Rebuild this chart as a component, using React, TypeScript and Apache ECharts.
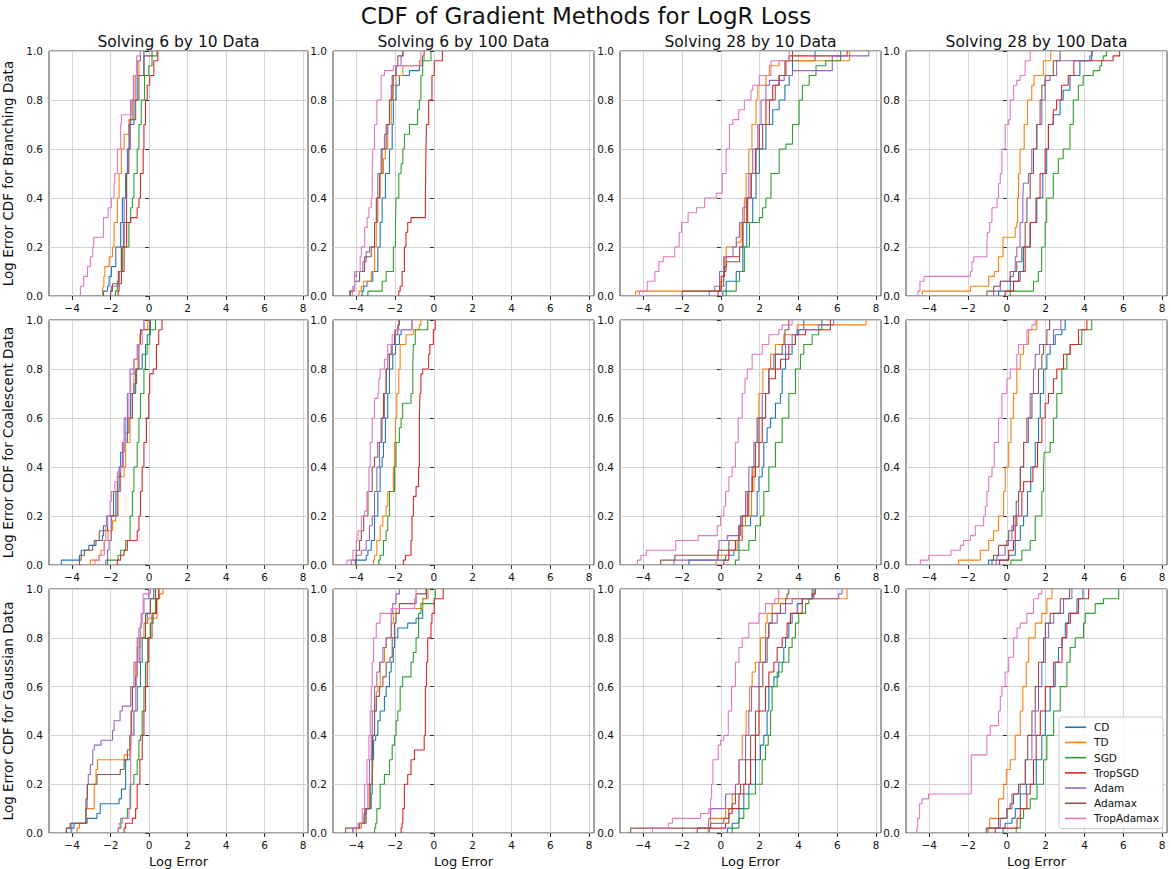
import React, { useEffect, useRef } from "react";
import * as echarts from "echarts";

const methods = ["CD", "TD", "SGD", "TropSGD", "Adam", "Adamax", "TropAdamax"];
const colors = ["#1f77b4", "#ff7f0e", "#2ca02c", "#d62728", "#9467bd", "#8c564b", "#e377c2"];
const columnTitles = ["Solving 6 by 10 Data", "Solving 6 by 100 Data", "Solving 28 by 10 Data", "Solving 28 by 100 Data"];
const rowLabels = ["Log Error CDF for Branching Data", "Log Error CDF for Coalescent Data", "Log Error CDF for Gaussian Data"];
const xTicks = [-4, -2, 0, 2, 4, 6, 8];
const mainTitle = "CDF of Gradient Methods for LogR Loss";
const xName = "Log Error";

// Each series: flat list of [x, cdf level reached at x] pairs; order = methods
const branching6by10 = [
  [-2.37, 0.02, -2.16, 0.04, -2.08, 0.08, -1.96, 0.12, -1.73, 0.2, -1.48, 0.3, -1.39, 0.4, -1.22, 0.5, -1.13, 0.6, -1.0, 0.7, -0.79, 0.8, -0.62, 0.9, -0.27, 1.0],
  [-2.42, 0.02, -2.4, 0.04, -2.35, 0.08, -2.3, 0.12, -2.07, 0.16, -1.9, 0.2, -1.82, 0.3, -1.65, 0.4, -1.56, 0.5, -1.44, 0.6, -1.3, 0.66, -1.05, 0.72, -0.87, 0.8, -0.7, 0.9, -0.53, 0.96, -0.45, 1.0],
  [-1.75, 0.02, -1.65, 0.06, -1.56, 0.1, -1.39, 0.2, -1.05, 0.3, -0.96, 0.36, -0.87, 0.4, -0.79, 0.5, -0.62, 0.6, -0.53, 0.7, -0.41, 0.8, -0.24, 0.9, -0.02, 0.94, 0.15, 0.98, 0.41, 1.0],
  [-1.61, 0.02, -1.56, 0.05, -1.44, 0.1, -1.3, 0.2, -1.17, 0.3, -0.96, 0.32, -0.62, 0.36, -0.53, 0.4, -0.45, 0.5, -0.31, 0.6, -0.27, 0.7, -0.19, 0.8, -0.1, 0.86, 0.03, 0.9, 0.24, 0.96, 0.45, 1.0],
  [-2.0, 0.02, -1.95, 0.04, -1.56, 0.1, -1.44, 0.2, -1.34, 0.3, -1.3, 0.4, -1.17, 0.5, -1.1, 0.6, -1.05, 0.7, -0.96, 0.8, -0.82, 0.9, -0.62, 0.96, -0.45, 1.0],
  [-2.0, 0.02, -1.9, 0.05, -1.6, 0.1, -1.44, 0.2, -1.3, 0.3, -1.17, 0.5, -1.05, 0.6, -0.99, 0.72, -0.7, 0.8, -0.53, 0.9, -0.27, 0.98, 0.15, 1.0],
  [-3.57, 0.04, -3.4, 0.08, -3.2, 0.12, -3.05, 0.16, -2.93, 0.2, -2.88, 0.24, -2.37, 0.32, -2.13, 0.36, -1.96, 0.4, -1.82, 0.46, -1.78, 0.5, -1.65, 0.6, -1.48, 0.7, -1.44, 0.74, -0.93, 0.8, -0.79, 0.9, -0.65, 0.98, -0.45, 1.0],
];
const branching6by100 = [
  [-3.7, 0.02, -3.62, 0.04, -3.45, 0.06, -3.15, 0.1, -2.89, 0.2, -2.77, 0.3, -2.67, 0.4, -2.5, 0.5, -2.29, 0.6, -2.15, 0.7, -2.09, 0.8, -1.95, 0.86, -1.78, 0.9, -1.26, 0.92, -0.75, 0.94, -0.58, 0.98, -0.5, 1.0],
  [-3.86, 0.02, -3.74, 0.04, -3.62, 0.06, -3.23, 0.1, -3.06, 0.2, -2.97, 0.3, -2.89, 0.4, -2.77, 0.5, -2.6, 0.56, -2.5, 0.6, -2.38, 0.7, -2.2, 0.8, -2.09, 0.86, -1.95, 0.9, -1.6, 0.94, -0.75, 0.96, -0.5, 1.0],
  [-3.4, 0.02, -2.67, 0.06, -2.46, 0.1, -2.09, 0.2, -1.98, 0.3, -1.95, 0.4, -1.81, 0.5, -1.69, 0.54, -1.6, 0.6, -1.52, 0.66, -1.26, 0.7, -0.84, 0.76, -0.75, 0.8, -0.67, 0.9, -0.58, 0.96, -0.15, 1.0],
  [-1.81, 0.02, -1.74, 0.04, -1.64, 0.1, -1.52, 0.2, -1.44, 0.26, -1.35, 0.3, -1.18, 0.32, -0.44, 0.4, -0.41, 0.6, -0.38, 0.7, -0.27, 0.8, -0.1, 0.9, 0.02, 0.96, 0.44, 1.0],
  [-4.34, 0.02, -4.17, 0.04, -4.09, 0.08, -4.0, 0.1, -3.66, 0.14, -3.49, 0.18, -3.32, 0.2, -3.06, 0.3, -2.97, 0.4, -2.89, 0.5, -2.72, 0.6, -2.55, 0.66, -2.38, 0.7, -2.29, 0.8, -2.2, 0.86, -2.09, 0.9, -1.95, 0.94, -1.69, 0.98, -1.6, 1.0],
  [-4.3, 0.02, -4.09, 0.06, -3.83, 0.1, -3.57, 0.16, -3.23, 0.2, -3.06, 0.3, -2.94, 0.4, -2.8, 0.5, -2.67, 0.6, -2.46, 0.7, -2.29, 0.8, -2.15, 0.9, -1.95, 0.94, -1.86, 0.98, -1.6, 1.0],
  [-4.2, 0.02, -4.09, 0.1, -3.8, 0.16, -3.74, 0.2, -3.57, 0.28, -3.44, 0.32, -3.35, 0.36, -3.23, 0.4, -3.18, 0.5, -3.15, 0.6, -3.06, 0.7, -2.94, 0.8, -2.72, 0.9, -2.55, 0.92, -2.09, 0.94, -0.67, 1.0],
];
const branching28by10 = [
  [0.1, 0.02, 0.27, 0.06, 0.79, 0.1, 1.13, 0.2, 1.33, 0.3, 1.64, 0.4, 1.81, 0.5, 1.98, 0.6, 2.32, 0.7, 2.67, 0.76, 3.0, 0.8, 3.3, 0.86, 3.52, 0.9, 3.69, 0.96, 4.85, 1.0],
  [-4.4, 0.02, 0.0, 0.06, 0.14, 0.1, 0.19, 0.16, 0.27, 0.2, 0.82, 0.22, 1.04, 0.3, 1.21, 0.4, 1.3, 0.5, 1.44, 0.6, 1.6, 0.7, 1.81, 0.8, 1.9, 0.86, 2.32, 0.9, 2.5, 0.94, 3.0, 0.96, 6.63, 1.0],
  [0.27, 0.02, 0.79, 0.06, 0.96, 0.1, 1.21, 0.2, 1.47, 0.3, 1.98, 0.32, 2.15, 0.36, 2.32, 0.4, 2.58, 0.5, 3.0, 0.6, 3.35, 0.62, 3.69, 0.7, 4.03, 0.8, 4.2, 0.86, 4.55, 0.9, 4.9, 0.94, 5.4, 0.96, 6.17, 1.0],
  [-0.15, 0.02, 0.02, 0.08, 0.19, 0.12, 0.27, 0.16, 0.96, 0.2, 1.13, 0.3, 1.38, 0.4, 1.56, 0.5, 1.78, 0.6, 1.98, 0.7, 2.32, 0.8, 2.67, 0.86, 3.0, 0.9, 3.35, 0.96, 3.5, 0.98, 6.5, 1.0],
  [-0.6, 0.02, -0.32, 0.04, -0.07, 0.1, 0.14, 0.16, 0.62, 0.2, 0.79, 0.24, 0.96, 0.3, 1.13, 0.36, 1.3, 0.4, 1.44, 0.5, 1.64, 0.6, 1.9, 0.7, 2.07, 0.8, 2.32, 0.86, 2.5, 0.88, 3.26, 0.9, 3.69, 0.92, 5.74, 0.98, 7.62, 1.0],
  [-2.0, 0.02, -0.07, 0.04, 0.14, 0.1, 0.27, 0.12, 0.3, 0.14, 0.96, 0.2, 1.13, 0.3, 1.33, 0.4, 1.56, 0.5, 1.81, 0.6, 2.15, 0.7, 2.5, 0.8, 2.8, 0.86, 3.0, 0.9, 3.3, 0.96, 3.69, 1.0],
  [-4.2, 0.02, -3.8, 0.06, -3.4, 0.1, -3.2, 0.14, -2.97, 0.16, -2.38, 0.2, -2.15, 0.26, -2.03, 0.3, -1.69, 0.34, -1.26, 0.36, -0.84, 0.4, -0.24, 0.42, 0.07, 0.5, 0.27, 0.6, 0.44, 0.7, 0.62, 0.72, 0.92, 0.76, 1.21, 0.8, 1.55, 0.84, 1.64, 0.86, 1.98, 0.9, 2.58, 0.96, 3.52, 1.0],
];
const branching28by100 = [
  [-0.43, 0.02, 0.17, 0.06, 0.6, 0.1, 0.85, 0.2, 1.2, 0.3, 1.54, 0.4, 1.85, 0.5, 2.05, 0.6, 2.14, 0.7, 2.39, 0.74, 2.74, 0.8, 2.9, 0.84, 3.25, 0.9, 3.76, 0.96, 4.36, 1.0],
  [-4.36, 0.02, -1.88, 0.04, -0.94, 0.08, -0.65, 0.1, -0.43, 0.16, -0.2, 0.24, 0.43, 0.28, 0.51, 0.3, 0.55, 0.4, 0.6, 0.5, 0.68, 0.6, 0.89, 0.7, 1.06, 0.8, 1.28, 0.86, 1.4, 0.9, 1.88, 0.96, 2.26, 1.0],
  [0.17, 0.02, 1.37, 0.06, 1.62, 0.1, 1.79, 0.2, 1.97, 0.3, 2.05, 0.4, 2.39, 0.5, 2.65, 0.56, 2.9, 0.6, 3.25, 0.7, 3.42, 0.8, 3.68, 0.86, 3.93, 0.9, 4.45, 0.92, 4.79, 0.94, 4.88, 0.96, 4.96, 0.98, 5.13, 1.0],
  [-0.09, 0.02, 0.34, 0.06, 0.68, 0.1, 0.94, 0.2, 1.2, 0.3, 1.5, 0.4, 1.71, 0.5, 1.97, 0.6, 2.14, 0.7, 2.39, 0.76, 2.56, 0.8, 2.82, 0.86, 3.16, 0.9, 3.45, 0.96, 5.47, 0.98, 5.81, 1.0],
  [-0.68, 0.02, -0.34, 0.06, 0.17, 0.08, 0.34, 0.1, 0.43, 0.16, 0.51, 0.2, 0.68, 0.3, 0.82, 0.4, 0.85, 0.46, 1.11, 0.5, 1.28, 0.6, 1.54, 0.7, 1.8, 0.8, 1.97, 0.88, 2.22, 0.9, 2.56, 0.96, 4.27, 0.98, 4.4, 1.0],
  [-1.03, 0.02, -0.68, 0.04, -0.34, 0.06, 0.17, 0.1, 0.51, 0.14, 0.77, 0.2, 0.94, 0.3, 1.03, 0.4, 1.2, 0.5, 1.37, 0.6, 1.54, 0.7, 1.71, 0.8, 1.8, 0.86, 1.97, 0.9, 2.39, 0.96, 2.74, 1.0],
  [-4.58, 0.02, -4.48, 0.06, -4.27, 0.08, -1.88, 0.1, -1.8, 0.14, -1.71, 0.16, -1.03, 0.22, -1.0, 0.26, -0.89, 0.3, -0.77, 0.36, -0.51, 0.4, -0.43, 0.46, -0.34, 0.5, -0.26, 0.6, -0.09, 0.7, 0.09, 0.72, 0.17, 0.8, 0.34, 0.86, 0.51, 0.88, 0.68, 0.9, 0.94, 0.96, 1.2, 1.0],
];
const coalescent6by10 = [
  [-4.56, 0.02, -3.62, 0.04, -3.53, 0.06, -3.13, 0.08, -2.76, 0.1, -2.42, 0.12, -2.37, 0.16, -2.2, 0.2, -1.73, 0.3, -1.56, 0.4, -1.48, 0.46, -1.3, 0.5, -1.13, 0.6, -0.96, 0.7, -0.7, 0.8, -0.36, 0.86, -0.19, 0.9, -0.1, 0.94, 0.07, 1.0],
  [-3.05, 0.02, -2.6, 0.04, -2.5, 0.06, -2.33, 0.1, -2.13, 0.14, -1.9, 0.18, -1.73, 0.2, -1.61, 0.3, -1.48, 0.36, -1.3, 0.4, -1.22, 0.5, -0.99, 0.6, -0.87, 0.7, -0.79, 0.8, -0.58, 0.9, -0.48, 0.94, -0.41, 0.96, -0.07, 1.0],
  [-2.16, 0.02, -1.61, 0.04, -1.48, 0.06, -1.22, 0.1, -0.99, 0.2, -0.87, 0.3, -0.79, 0.4, -0.62, 0.5, -0.53, 0.6, -0.45, 0.7, -0.27, 0.8, -0.19, 0.86, -0.1, 0.9, 0.03, 0.96, 0.33, 1.0],
  [-1.65, 0.02, -1.48, 0.04, -1.3, 0.06, -1.13, 0.1, -0.62, 0.14, -0.53, 0.2, -0.45, 0.3, -0.36, 0.4, -0.27, 0.5, -0.14, 0.6, -0.02, 0.7, 0.03, 0.78, 0.21, 0.8, 0.38, 0.9, 0.5, 0.96, 0.67, 1.0],
  [-2.25, 0.02, -2.16, 0.06, -2.08, 0.1, -1.96, 0.2, -1.65, 0.3, -1.51, 0.4, -1.39, 0.5, -1.3, 0.6, -1.13, 0.7, -0.99, 0.8, -0.79, 0.84, -0.62, 0.9, -0.45, 0.96, -0.27, 1.0],
  [-3.62, 0.02, -3.53, 0.04, -3.36, 0.06, -2.93, 0.08, -2.85, 0.1, -2.59, 0.14, -2.16, 0.2, -1.85, 0.3, -1.65, 0.36, -1.48, 0.4, -1.34, 0.5, -1.22, 0.54, -1.05, 0.6, -0.87, 0.7, -0.79, 0.74, -0.65, 0.8, -0.53, 0.9, -0.45, 0.96, 0.03, 1.0],
  [-2.81, 0.02, -2.59, 0.04, -2.33, 0.1, -2.25, 0.16, -2.16, 0.2, -2.03, 0.26, -1.96, 0.3, -1.78, 0.34, -1.65, 0.38, -1.48, 0.4, -1.34, 0.5, -1.22, 0.6, -1.05, 0.7, -0.96, 0.78, -0.79, 0.84, -0.58, 0.9, -0.36, 0.96, -0.27, 1.0],
];
const coalescent6by100 = [
  [-4.0, 0.02, -3.49, 0.04, -3.4, 0.06, -3.23, 0.1, -3.06, 0.2, -2.89, 0.3, -2.77, 0.4, -2.67, 0.44, -2.6, 0.5, -2.5, 0.6, -2.38, 0.7, -2.29, 0.8, -2.12, 0.86, -1.98, 0.9, -1.78, 0.94, -1.69, 0.96, -1.13, 1.0],
  [-3.11, 0.02, -3.06, 0.04, -2.94, 0.1, -2.77, 0.16, -2.63, 0.2, -2.46, 0.24, -2.38, 0.3, -2.09, 0.4, -2.03, 0.5, -1.98, 0.6, -1.91, 0.7, -1.81, 0.8, -1.74, 0.9, -1.44, 0.94, -1.06, 0.96, -0.75, 0.98, -0.67, 1.0],
  [-2.84, 0.02, -2.77, 0.04, -2.6, 0.1, -2.46, 0.14, -2.38, 0.2, -2.29, 0.3, -2.03, 0.4, -1.95, 0.5, -1.78, 0.56, -1.69, 0.6, -1.61, 0.66, -1.18, 0.7, -1.09, 0.8, -1.06, 0.9, -0.96, 0.96, -0.32, 1.0],
  [-1.57, 0.02, -1.47, 0.04, -1.18, 0.1, -1.13, 0.2, -1.06, 0.28, -0.92, 0.32, -0.79, 0.4, -0.75, 0.6, -0.72, 0.7, -0.67, 0.78, -0.58, 0.8, -0.27, 0.86, -0.21, 0.9, -0.03, 0.96, 0.07, 1.0],
  [-4.26, 0.02, -4.0, 0.04, -3.74, 0.06, -3.49, 0.1, -3.32, 0.16, -3.18, 0.2, -3.06, 0.3, -2.94, 0.4, -2.8, 0.5, -2.67, 0.6, -2.55, 0.7, -2.46, 0.8, -2.38, 0.86, -2.2, 0.9, -1.98, 0.96, -1.81, 1.0],
  [-4.05, 0.02, -4.0, 0.06, -3.83, 0.1, -3.74, 0.14, -3.62, 0.2, -3.4, 0.3, -3.18, 0.4, -3.06, 0.44, -2.89, 0.5, -2.72, 0.6, -2.6, 0.7, -2.46, 0.8, -2.29, 0.86, -2.15, 0.9, -2.03, 0.94, -1.86, 0.98, -1.78, 1.0],
  [-4.48, 0.02, -4.17, 0.06, -4.0, 0.1, -3.91, 0.14, -3.74, 0.2, -3.57, 0.22, -3.45, 0.3, -3.35, 0.4, -3.28, 0.5, -3.18, 0.6, -3.06, 0.68, -2.89, 0.7, -2.84, 0.76, -2.77, 0.8, -2.55, 0.84, -2.38, 0.9, -2.15, 0.94, -2.03, 0.96, -1.13, 1.0],
];
const coalescent28by10 = [
  [-1.65, 0.02, 0.24, 0.04, 0.67, 0.06, 0.93, 0.1, 1.1, 0.16, 1.53, 0.2, 1.87, 0.3, 1.96, 0.36, 2.13, 0.4, 2.21, 0.5, 2.38, 0.56, 2.56, 0.6, 2.81, 0.66, 3.07, 0.7, 3.16, 0.8, 3.33, 0.86, 3.67, 0.9, 3.84, 0.94, 4.01, 0.96, 4.27, 1.0],
  [-0.24, 0.02, -0.19, 0.04, 0.41, 0.06, 0.84, 0.1, 1.1, 0.16, 1.27, 0.2, 1.58, 0.3, 1.7, 0.4, 1.78, 0.5, 1.87, 0.6, 1.96, 0.7, 2.16, 0.8, 2.56, 0.86, 2.81, 0.9, 3.24, 0.94, 3.93, 0.98, 7.48, 1.0],
  [0.75, 0.02, 0.93, 0.06, 1.44, 0.1, 1.78, 0.16, 2.04, 0.2, 2.21, 0.3, 2.47, 0.4, 2.81, 0.5, 3.16, 0.6, 3.5, 0.7, 3.84, 0.8, 4.1, 0.86, 4.27, 0.9, 4.7, 0.94, 5.04, 0.96, 5.2, 1.0],
  [0.15, 0.02, 0.41, 0.06, 0.75, 0.1, 0.93, 0.16, 1.1, 0.2, 1.36, 0.3, 1.61, 0.36, 1.78, 0.4, 1.96, 0.5, 2.13, 0.6, 2.3, 0.7, 2.47, 0.76, 2.81, 0.8, 3.07, 0.84, 3.5, 0.9, 3.84, 0.94, 4.36, 0.96, 5.64, 1.0],
  [-2.42, 0.02, -0.14, 0.06, -0.1, 0.1, 0.33, 0.12, 1.01, 0.2, 1.27, 0.3, 1.44, 0.4, 1.7, 0.5, 1.87, 0.6, 2.13, 0.7, 2.47, 0.8, 2.73, 0.86, 3.33, 0.9, 3.67, 0.94, 3.93, 0.96, 5.04, 0.98, 5.81, 1.0],
  [-3.1, 0.02, -2.37, 0.04, -0.14, 0.06, 0.41, 0.1, 0.93, 0.16, 1.1, 0.2, 1.44, 0.3, 1.61, 0.4, 1.78, 0.5, 1.96, 0.6, 2.3, 0.7, 2.47, 0.8, 2.81, 0.86, 3.16, 0.9, 3.3, 0.96, 3.5, 1.0],
  [-4.3, 0.02, -4.12, 0.04, -3.84, 0.06, -2.33, 0.1, -1.17, 0.12, -0.19, 0.16, -0.02, 0.2, 0.15, 0.24, 0.24, 0.3, 0.41, 0.36, 0.58, 0.4, 0.75, 0.5, 0.89, 0.6, 1.1, 0.7, 1.24, 0.76, 1.36, 0.8, 1.61, 0.86, 2.13, 0.9, 2.47, 0.94, 2.98, 0.96, 3.16, 0.98, 3.67, 1.0],
];
const coalescent28by100 = [
  [-0.94, 0.02, 0.09, 0.04, 0.43, 0.1, 0.69, 0.16, 0.86, 0.2, 1.06, 0.3, 1.23, 0.4, 1.46, 0.5, 1.63, 0.6, 1.72, 0.7, 1.89, 0.8, 2.06, 0.86, 2.23, 0.9, 2.49, 0.94, 2.83, 0.96, 3.0, 1.0],
  [-2.49, 0.02, -1.37, 0.06, -0.94, 0.1, -0.69, 0.14, -0.43, 0.2, -0.17, 0.3, -0.09, 0.4, 0.09, 0.5, 0.21, 0.6, 0.34, 0.7, 0.51, 0.8, 0.69, 0.86, 0.86, 0.9, 1.11, 0.96, 1.54, 1.0],
  [0.21, 0.02, 0.77, 0.06, 1.2, 0.1, 1.46, 0.2, 1.8, 0.3, 1.89, 0.4, 1.92, 0.46, 2.23, 0.5, 2.4, 0.6, 2.57, 0.7, 2.83, 0.8, 3.09, 0.86, 3.26, 0.9, 3.86, 0.96, 4.37, 1.0],
  [-0.38, 0.02, 0.09, 0.06, 0.34, 0.1, 0.43, 0.16, 0.51, 0.2, 0.77, 0.3, 0.86, 0.34, 1.34, 0.4, 1.58, 0.5, 1.8, 0.6, 1.97, 0.66, 2.14, 0.7, 2.4, 0.76, 2.57, 0.8, 2.92, 0.86, 3.26, 0.9, 3.69, 0.96, 4.12, 1.0],
  [-0.55, 0.02, -0.51, 0.04, -0.09, 0.08, 0.09, 0.1, 0.26, 0.16, 0.43, 0.2, 0.6, 0.3, 0.69, 0.4, 0.86, 0.5, 1.11, 0.6, 1.2, 0.7, 1.37, 0.8, 1.46, 0.86, 1.68, 0.9, 2.4, 0.96, 2.78, 1.0],
  [-0.77, 0.02, -0.69, 0.04, -0.43, 0.08, 0.0, 0.1, 0.09, 0.14, 0.34, 0.2, 0.48, 0.26, 0.6, 0.3, 0.69, 0.4, 0.86, 0.5, 1.03, 0.6, 1.29, 0.7, 1.63, 0.8, 1.8, 0.86, 1.89, 0.9, 2.06, 0.96, 2.2, 1.0],
  [-4.46, 0.02, -4.03, 0.04, -2.88, 0.06, -2.4, 0.08, -2.23, 0.1, -1.88, 0.12, -1.63, 0.16, -1.2, 0.2, -1.11, 0.24, -1.03, 0.3, -0.94, 0.36, -0.77, 0.4, -0.65, 0.5, -0.43, 0.6, -0.26, 0.7, 0.0, 0.76, 0.17, 0.8, 0.51, 0.86, 0.6, 0.9, 1.03, 0.96, 1.29, 0.98, 1.46, 1.0],
];
const gaussian6by10 = [
  [-4.05, 0.02, -3.9, 0.04, -3.22, 0.06, -2.71, 0.08, -2.54, 0.12, -1.56, 0.14, -1.44, 0.18, -1.22, 0.3, -0.99, 0.4, -0.79, 0.5, -0.62, 0.6, -0.45, 0.7, -0.36, 0.8, -0.19, 0.86, -0.1, 0.9, 0.07, 0.96, 0.24, 1.0],
  [-3.74, 0.02, -3.62, 0.04, -3.28, 0.1, -2.85, 0.2, -2.76, 0.26, -2.68, 0.3, -1.3, 0.32, -0.99, 0.4, -0.93, 0.5, -0.87, 0.6, -0.7, 0.7, -0.62, 0.76, -0.48, 0.8, -0.27, 0.86, -0.07, 0.88, 0.41, 0.96, 0.55, 0.98, 0.72, 1.0],
  [-1.61, 0.02, -1.47, 0.06, -1.13, 0.1, -0.96, 0.2, -0.79, 0.24, -0.62, 0.3, -0.53, 0.38, -0.45, 0.4, -0.36, 0.5, -0.27, 0.6, -0.19, 0.7, -0.07, 0.8, 0.07, 0.86, 0.21, 0.9, 0.33, 0.96, 0.5, 1.0],
  [-1.3, 0.02, -1.22, 0.04, -0.87, 0.06, -0.7, 0.1, -0.62, 0.2, -0.48, 0.3, -0.36, 0.4, -0.27, 0.5, -0.19, 0.6, -0.1, 0.7, -0.02, 0.8, 0.15, 0.9, 0.38, 0.96, 0.5, 1.0],
  [-4.3, 0.02, -4.05, 0.04, -3.28, 0.1, -3.22, 0.2, -3.16, 0.24, -3.05, 0.28, -2.93, 0.34, -2.85, 0.36, -2.5, 0.38, -1.9, 0.42, -1.82, 0.46, -1.51, 0.5, -1.39, 0.52, -0.96, 0.6, -0.79, 0.7, -0.62, 0.8, -0.53, 0.84, -0.41, 0.9, -0.27, 0.96, -0.02, 1.0],
  [-4.3, 0.02, -4.1, 0.04, -3.28, 0.14, -3.2, 0.2, -2.71, 0.24, -1.5, 0.26, -1.3, 0.3, -1.13, 0.34, -0.99, 0.4, -0.93, 0.5, -0.87, 0.6, -0.7, 0.64, -0.62, 0.7, -0.48, 0.8, -0.19, 0.9, 0.07, 0.96, 0.33, 1.0],
  [-1.61, 0.02, -1.56, 0.04, -1.39, 0.06, -1.05, 0.1, -1.0, 0.2, -0.96, 0.3, -0.93, 0.4, -0.82, 0.5, -0.7, 0.6, -0.65, 0.7, -0.53, 0.8, -0.45, 0.86, -0.36, 0.9, -0.31, 0.98, 0.07, 1.0],
];
const gaussian6by100 = [
  [-4.17, 0.02, -3.83, 0.04, -3.49, 0.1, -3.23, 0.16, -3.18, 0.2, -3.15, 0.3, -3.11, 0.38, -3.0, 0.4, -2.89, 0.46, -2.77, 0.5, -2.55, 0.56, -2.46, 0.6, -2.29, 0.66, -2.2, 0.7, -2.09, 0.76, -2.03, 0.8, -1.86, 0.84, -1.35, 0.86, -0.92, 0.88, -0.58, 0.96, -0.38, 1.0],
  [-4.0, 0.02, -3.74, 0.04, -3.52, 0.1, -3.32, 0.2, -3.18, 0.3, -3.15, 0.4, -3.06, 0.5, -2.97, 0.58, -2.89, 0.6, -2.77, 0.7, -2.55, 0.76, -2.46, 0.8, -2.2, 0.86, -2.09, 0.9, -1.95, 0.92, -0.58, 0.96, -0.3, 1.0],
  [-3.06, 0.02, -3.0, 0.04, -2.94, 0.1, -2.77, 0.2, -2.55, 0.24, -2.29, 0.3, -2.15, 0.36, -2.03, 0.4, -1.95, 0.46, -1.86, 0.5, -1.74, 0.6, -1.61, 0.64, -1.18, 0.7, -1.06, 0.74, -0.92, 0.8, -0.79, 0.9, -0.67, 0.94, 0.02, 0.96, 0.07, 1.0],
  [-1.69, 0.02, -1.64, 0.04, -1.6, 0.1, -1.52, 0.2, -1.35, 0.24, -1.18, 0.3, -1.0, 0.34, -0.5, 0.4, -0.44, 0.6, -0.38, 0.7, -0.32, 0.8, -0.15, 0.86, -0.1, 0.9, 0.02, 0.96, 0.48, 1.0],
  [-4.17, 0.02, -3.83, 0.04, -3.57, 0.1, -3.4, 0.2, -3.32, 0.3, -3.23, 0.4, -3.18, 0.5, -3.06, 0.6, -2.94, 0.66, -2.8, 0.7, -2.63, 0.76, -2.46, 0.8, -2.2, 0.9, -2.12, 0.94, -1.95, 0.98, -1.78, 1.0],
  [-4.55, 0.02, -3.86, 0.04, -3.6, 0.08, -3.49, 0.1, -3.28, 0.2, -3.18, 0.3, -3.15, 0.4, -3.06, 0.5, -2.97, 0.56, -2.8, 0.6, -2.63, 0.64, -2.46, 0.7, -2.26, 0.72, -2.15, 0.8, -2.03, 0.86, -1.95, 0.9, -1.78, 0.94, -0.92, 0.98, -0.41, 1.0],
  [-4.14, 0.02, -3.91, 0.04, -3.69, 0.1, -3.57, 0.2, -3.45, 0.3, -3.35, 0.4, -3.28, 0.5, -3.23, 0.6, -3.18, 0.7, -3.11, 0.8, -2.97, 0.86, -2.77, 0.9, -2.2, 0.92, -1.0, 0.96, -0.92, 1.0],
];
const gaussian28by10 = [
  [0.33, 0.02, 0.58, 0.04, 0.93, 0.1, 1.18, 0.16, 1.44, 0.2, 1.78, 0.3, 2.04, 0.36, 2.21, 0.4, 2.38, 0.5, 2.47, 0.6, 2.73, 0.64, 2.98, 0.7, 3.24, 0.76, 3.33, 0.8, 3.5, 0.86, 3.67, 0.9, 3.93, 0.94, 4.19, 0.96, 4.79, 1.0],
  [-0.58, 0.02, -0.53, 0.06, 0.24, 0.1, 0.58, 0.16, 0.75, 0.2, 0.93, 0.3, 1.1, 0.4, 1.3, 0.5, 1.48, 0.6, 1.61, 0.66, 1.78, 0.7, 2.04, 0.8, 2.3, 0.86, 2.38, 0.9, 2.64, 0.94, 2.98, 0.96, 6.5, 1.0],
  [0.58, 0.02, 0.93, 0.06, 1.18, 0.1, 1.44, 0.16, 1.78, 0.2, 2.13, 0.3, 2.3, 0.36, 2.44, 0.4, 2.56, 0.5, 2.64, 0.6, 2.9, 0.66, 3.16, 0.7, 3.5, 0.76, 3.67, 0.8, 3.84, 0.86, 4.01, 0.9, 4.36, 0.94, 4.53, 0.96, 4.7, 1.0],
  [-1.22, 0.02, 0.24, 0.04, 0.41, 0.08, 0.58, 0.1, 0.93, 0.16, 1.18, 0.2, 1.53, 0.3, 1.78, 0.4, 1.96, 0.5, 2.3, 0.6, 2.47, 0.66, 2.73, 0.7, 2.9, 0.76, 3.16, 0.8, 3.41, 0.86, 3.58, 0.9, 4.19, 0.96, 4.7, 0.98, 4.87, 1.0],
  [-0.65, 0.02, -0.62, 0.06, -0.53, 0.1, 0.24, 0.16, 0.75, 0.2, 0.93, 0.3, 1.27, 0.4, 1.44, 0.5, 1.58, 0.6, 1.96, 0.7, 2.3, 0.8, 2.47, 0.86, 2.9, 0.9, 3.33, 0.94, 3.67, 0.96, 6.07, 0.98, 6.24, 1.0],
  [-4.65, 0.02, -0.53, 0.04, 0.15, 0.06, 0.41, 0.1, 0.58, 0.12, 0.75, 0.16, 1.01, 0.2, 1.27, 0.3, 1.53, 0.4, 1.78, 0.5, 1.96, 0.6, 2.16, 0.7, 2.38, 0.8, 2.47, 0.86, 2.64, 0.9, 3.07, 0.94, 3.33, 0.96, 3.41, 0.98, 3.5, 1.0],
  [-3.53, 0.02, -2.71, 0.04, -2.5, 0.06, -1.05, 0.08, -0.62, 0.1, -0.53, 0.14, -0.48, 0.2, -0.41, 0.3, -0.14, 0.36, -0.02, 0.38, 0.15, 0.4, 0.38, 0.5, 0.55, 0.6, 0.75, 0.7, 0.93, 0.76, 1.1, 0.8, 1.44, 0.86, 1.96, 0.9, 2.3, 0.94, 2.78, 0.96, 2.98, 1.0],
];
const gaussian28by100 = [
  [-0.2, 0.02, -0.09, 0.04, 0.26, 0.06, 0.43, 0.1, 0.69, 0.16, 1.0, 0.2, 1.51, 0.3, 1.8, 0.4, 1.98, 0.5, 2.23, 0.6, 2.49, 0.7, 2.66, 0.76, 2.84, 0.8, 3.01, 0.86, 3.18, 0.9, 3.61, 0.96, 3.92, 1.0],
  [-0.94, 0.02, -0.89, 0.06, -0.43, 0.14, -0.17, 0.2, -0.03, 0.26, 0.17, 0.3, 0.43, 0.4, 0.69, 0.5, 0.82, 0.6, 1.0, 0.7, 1.12, 0.8, 1.46, 0.86, 1.8, 0.9, 2.06, 0.96, 2.32, 1.0],
  [0.48, 0.02, 0.69, 0.06, 0.86, 0.1, 1.2, 0.14, 1.55, 0.2, 1.89, 0.3, 2.06, 0.4, 2.41, 0.5, 2.75, 0.6, 3.09, 0.7, 3.26, 0.76, 3.52, 0.8, 3.95, 0.86, 4.04, 0.9, 4.55, 0.94, 4.98, 0.96, 5.76, 1.0],
  [-0.6, 0.02, 0.52, 0.06, 0.69, 0.1, 1.03, 0.16, 1.2, 0.2, 1.37, 0.3, 1.51, 0.4, 1.72, 0.5, 1.98, 0.6, 2.41, 0.7, 2.84, 0.8, 3.09, 0.86, 3.27, 0.9, 3.69, 0.96, 4.21, 1.0],
  [-1.07, 0.02, -0.34, 0.06, 0.0, 0.1, 0.26, 0.16, 0.69, 0.2, 0.95, 0.3, 1.29, 0.4, 1.46, 0.5, 1.63, 0.6, 1.8, 0.7, 1.98, 0.8, 2.15, 0.86, 2.41, 0.9, 2.92, 0.96, 3.35, 1.0],
  [-1.03, 0.02, -0.43, 0.06, 0.0, 0.1, 0.17, 0.12, 0.34, 0.16, 0.6, 0.2, 0.95, 0.3, 1.07, 0.4, 1.29, 0.5, 1.46, 0.6, 1.63, 0.7, 1.89, 0.8, 1.98, 0.86, 2.23, 0.9, 2.75, 0.96, 3.23, 1.0],
  [-4.64, 0.02, -4.6, 0.06, -4.5, 0.12, -4.38, 0.14, -4.04, 0.16, -1.84, 0.32, -1.03, 0.4, -0.86, 0.44, -0.43, 0.5, -0.34, 0.56, -0.26, 0.6, -0.09, 0.66, 0.09, 0.72, 0.34, 0.8, 0.52, 0.84, 0.69, 0.86, 1.03, 0.9, 1.37, 0.96, 1.63, 0.98, 1.8, 1.0],
];

const panels = [
  [branching6by10, branching6by100, branching28by10, branching28by100],
  [coalescent6by10, coalescent6by100, coalescent28by10, coalescent28by100],
  [gaussian6by10, gaussian6by100, gaussian28by10, gaussian28by100],
];

const FONT = "DejaVu Sans";
const gridLefts = [48, 333, 620, 906];
const gridTops = [51, 320, 589];
const GW = 261;
const GH = 245;

function toSteps(flat: number[]) {
  const pts: number[][] = [[flat[0], 0]];
  for (let i = 0; i < flat.length; i += 2) pts.push([flat[i], flat[i + 1]]);
  return pts;
}

function fmtX(v: number) {
  return v < 0 ? "\u2212" + Math.abs(v) : String(v);
}

export default function App() {
  const ref = useRef<HTMLDivElement>(null);
  useEffect(() => {
    if (!ref.current) return;
    const chart = echarts.init(ref.current, null, { renderer: "svg" });
    const grids: any[] = [];
    const xAxes: any[] = [];
    const yAxes: any[] = [];
    const series: any[] = [];
    for (let r = 0; r < 3; r++) {
      for (let c = 0; c < 4; c++) {
        const idx = r * 4 + c;
        grids.push({
          left: gridLefts[c], top: gridTops[r], width: c === 0 ? GW - 1 : GW, height: GH,
          show: true, borderColor: "#444", borderWidth: 1, backgroundColor: "transparent",
        });
        xAxes.push({
          gridIndex: idx, type: "value", min: -5.2, max: 8.25,
          axisLine: { show: false },
          axisTick: { show: true, customValues: xTicks, length: 4, lineStyle: { color: "#333" } },
          axisLabel: { customValues: xTicks, formatter: fmtX, fontSize: 10.5, color: "#111", margin: 6, fontFamily: FONT },
          splitLine: { show: true, lineStyle: { color: "#d3d3d3", width: 1 } },
          name: r === 2 ? xName : "", nameLocation: "middle", nameGap: 22,
          nameTextStyle: { fontSize: 13, color: "#111", fontFamily: FONT },
        });
        yAxes.push({
          gridIndex: idx, type: "value", min: 0, max: 1, interval: 0.2,
          axisLine: { show: false },
          axisTick: { show: true, length: 4, lineStyle: { color: "#333" } },
          axisLabel: { formatter: (v: number) => v.toFixed(1), fontSize: 10.5, color: "#111", margin: 6, fontFamily: FONT },
          splitLine: { show: true, lineStyle: { color: "#d3d3d3", width: 1 } },
          name: c === 0 ? rowLabels[r] : "", nameLocation: "middle", nameGap: 34,
          nameTextStyle: { fontSize: 13.5, color: "#111", fontFamily: FONT },
        });
        const panel = panels[r][c];
        panel.forEach((flat, m) => {
          series.push({
            type: "line", name: methods[m], xAxisIndex: idx, yAxisIndex: idx,
            step: "end", symbol: "none", showSymbol: false, silent: true,
            lineStyle: { width: 1.1, color: colors[m] }, itemStyle: { color: colors[m] },
            data: toSteps(flat),
          });
        });
      }
    }
    const graphics: any[] = [
      {
        type: "text", x: 586, y: 16,
        style: { text: mainTitle, fontSize: 23, fontFamily: FONT, fill: "#111", textAlign: "center", textVerticalAlign: "middle" },
      },
    ];
    columnTitles.forEach((t, c) => {
      graphics.push({
        type: "text", x: gridLefts[c] + GW / 2, y: 42,
        style: { text: t, fontSize: 15.5, fontFamily: FONT, fill: "#111", textAlign: "center", textVerticalAlign: "middle" },
      });
    });
    chart.setOption({
      animation: false,
      textStyle: { fontFamily: FONT },
      grid: grids,
      xAxis: xAxes,
      yAxis: yAxes,
      series,
      graphic: graphics,
      legend: {
        data: methods, orient: "vertical", right: 8, top: 717,
        icon: "rect", itemWidth: 21, itemHeight: 1.6, itemGap: 2.7,
        backgroundColor: "rgba(255,255,255,0.85)", borderColor: "#ccc", borderWidth: 1, borderRadius: 3,
        padding: [4, 4, 4, 6],
        textStyle: { fontSize: 10.5, color: "#111", fontFamily: FONT, lineHeight: 12.5, padding: [0, 0, 0, 3] },
      },
    });
    return () => chart.dispose();
  }, []);
  return <div ref={ref} style={{ position: "fixed", left: 0, top: 0, width: 1171, height: 869, background: "#fff" }} />;
}
